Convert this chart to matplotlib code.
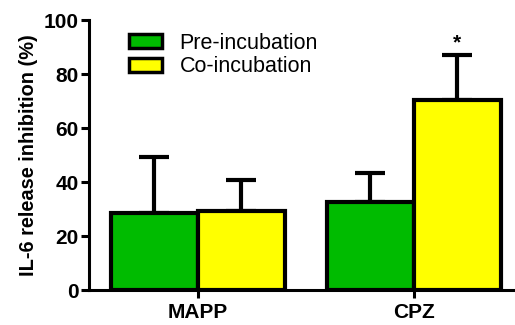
import matplotlib
matplotlib.use("Agg")
import matplotlib.pyplot as plt
import numpy as np
from matplotlib.patches import Patch

groups = ["MAPP", "CPZ"]
series = ["Pre-incubation", "Co-incubation"]
pre_mean = [28.5, 32.6]
pre_err = [20.8, 10.7]
co_mean = [29.3, 70.4]
co_err = [11.4, 16.6]
colors = ["#00BB00", "#FFFF00"]

plt.rcParams["font.family"] = ["Liberation Sans", "DejaVu Sans"]

fig = plt.figure(figsize=(5.15, 3.25), dpi=100)
ax = fig.add_axes([89 / 515, 1 - 290 / 325, (513 - 89) / 515, 270 / 325])

x = np.arange(len(groups))
w = 0.403
lw = 3.0
for vals, errs, col, off in [(pre_mean, pre_err, colors[0], -w / 2),
                             (co_mean, co_err, colors[1], w / 2)]:
    ax.bar(x + off, vals, width=w, color=col, edgecolor="black", linewidth=lw, zorder=2)
    ax.errorbar(x + off, vals, yerr=[np.zeros(len(errs)), errs], fmt="none",
                ecolor="black", elinewidth=lw, capsize=11, capthick=lw, zorder=1)

# significance marker above the CPZ co-incubation bar
ax.text(x[1] + w / 2, co_mean[1] + co_err[1] + 2.3, "*", ha="center", va="baseline",
        fontsize=15, fontweight="bold")

ax.set_xlim(-0.505, 1.46)
ax.set_ylim(0, 100)
ax.set_yticks([0, 20, 40, 60, 80, 100])
ax.set_xticks(x)
ax.set_xticklabels(groups, fontweight="bold", fontsize=15)
for lab in ax.get_yticklabels():
    lab.set_fontweight("bold")
    lab.set_fontsize(15)
ax.set_ylabel("IL-6 release inhibition (%)", fontweight="bold", fontsize=14.4, labelpad=4)

for s in ["top", "right"]:
    ax.spines[s].set_visible(False)
for s in ["left", "bottom"]:
    ax.spines[s].set_linewidth(2.2)
ax.tick_params(axis="both", width=2.2, length=6, direction="out")
ax.tick_params(axis="y", pad=1.5)
ax.tick_params(axis="x", pad=3)

handles = [Patch(facecolor=c, edgecolor="black", linewidth=2.5) for c in colors]
ax.legend(handles, series, loc="upper left", bbox_to_anchor=(0.094, 0.952), frameon=False,
          fontsize=15.5, handlelength=1.55, handleheight=0.62, labelspacing=0.1,
          handletextpad=0.8, borderpad=0, borderaxespad=0)

fig.savefig("out.png", dpi=100)
